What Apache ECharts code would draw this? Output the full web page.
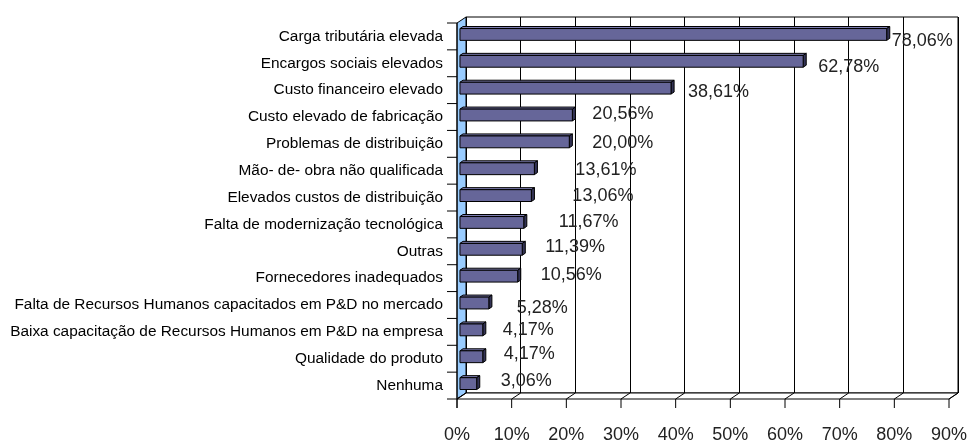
<!DOCTYPE html>
<html>
<head>
<meta charset="utf-8">
<script src="https://cdn.jsdelivr.net/npm/echarts@6/dist/echarts.min.js"></script>
<style>
html, body { margin: 0; padding: 0; background: #fff; }
#main { width: 974px; height: 444px; }
</style>
</head>
<body>
<div id="main"></div>
<script>
// dados
var categories = [
    'Carga tributária elevada',
    'Encargos sociais elevados',
    'Custo financeiro elevado',
    'Custo elevado de fabricação',
    'Problemas de distribuição',
    'Mão- de- obra não qualificada',
    'Elevados custos de distribuição',
    'Falta de modernização tecnológica',
    'Outras',
    'Fornecedores inadequados',
    'Falta de Recursos Humanos capacitados em P&D no mercado',
    'Baixa capacitação de Recursos Humanos em P&D na empresa',
    'Qualidade do produto',
    'Nenhuma'
];
var values = [78.06, 62.78, 38.61, 20.56, 20.00, 13.61, 13.06, 11.67, 11.39, 10.56, 5.28, 4.17, 4.17, 3.06];
var xTicks = [0, 10, 20, 30, 40, 50, 60, 70, 80, 90];

// profundidade do efeito 3D
var DX = -9, DY = 6;
var F_FRONT = 0.67, F_BACK = 0.33;
// deslocamento dos rótulos (como o Excel os posicionou)
var labelDx = [5, 15, 17, 20, 23, 41, 41, 35, 23, 23, 28, 20, 21, 24];
var labelDy = [11, 10, 8, 3, 5, 5, 4, 4, 2, 3, 9, 4, 1, 1];

function fmt(v) {
    return v.toFixed(2).replace('.', ',') + '%';
}

var myChart = echarts.init(document.getElementById('main'));

// chão, parede lateral, eixos da frente e nomes das categorias
function renderFrame(params, api) {
    var band = api.size([0, 1])[1];
    var first = api.coord([0, 0]);
    var last = api.coord([xTicks[xTicks.length - 1], categories.length - 1]);
    var top = first[1] - band / 2;
    var bottom = last[1] + band / 2;
    var left = first[0];
    var right = last[0];
    var line = { stroke: '#000', lineWidth: 1 };
    var children = [];
    // parede lateral
    children.push({
        type: 'polygon',
        shape: { points: [[left, top], [left, bottom], [left + DX, bottom + DY], [left + DX, top + DY]] },
        style: { fill: '#99ccff', stroke: '#000', lineWidth: 1 }
    });
    // chão
    children.push({
        type: 'polygon',
        shape: { points: [[left, bottom], [right, bottom], [right + DX, bottom + DY], [left + DX, bottom + DY]] },
        style: { fill: '#fff', stroke: '#000', lineWidth: 1 }
    });
    xTicks.forEach(function (t) {
        var x = api.coord([t, 0])[0];
        children.push({ type: 'line', shape: { x1: x, y1: bottom, x2: x + DX, y2: bottom + DY }, style: line });
        children.push({ type: 'line', shape: { x1: x + DX, y1: bottom + DY, x2: x + DX, y2: bottom + DY + 9 }, style: line });
    });
    // eixo vertical da frente
    children.push({ type: 'line', shape: { x1: left + DX, y1: top + DY, x2: left + DX, y2: bottom + DY + 9 }, style: line });
    for (var i = 0; i <= categories.length; i++) {
        var y = top + band * i + DY;
        children.push({ type: 'line', shape: { x1: left + DX - 10, y1: y, x2: left + DX, y2: y }, style: line });
    }
    categories.forEach(function (name, i) {
        var p = api.coord([0, i]);
        children.push({
            type: 'text',
            style: {
                x: p[0] + DX - 14,
                y: p[1] + DY,
                text: name,
                fill: '#000',
                font: '15.4px "Liberation Sans", Arial, sans-serif',
                align: 'right',
                verticalAlign: 'middle'
            }
        });
    });
    return { type: 'group', children: children };
}

// barras 3D
function renderBar(params, api) {
    var v = api.value(0), c = api.value(1);
    var p0 = api.coord([0, c]);
    var p1 = api.coord([v, c]);
    var h = api.size([0, 1])[1] * 0.44;
    var fx = DX * F_FRONT, fy = DY * F_FRONT;
    var bx = DX * F_BACK, by = DY * F_BACK;
    var x0 = p0[0] + fx, x1 = p1[0] + fx;
    var yt = p0[1] + fy - h / 2, yb = p0[1] + fy + h / 2;
    var dx = bx - fx, dy = by - fy;
    var edge = { stroke: '#000', lineWidth: 1 };
    return {
        type: 'group',
        children: [
            {
                type: 'polygon',
                shape: { points: [[x0, yt], [x1, yt], [x1 + dx, yt + dy], [x0 + dx, yt + dy]] },
                style: echarts.util.extend({ fill: '#7c7cb0' }, edge)
            },
            {
                type: 'polygon',
                shape: { points: [[x1, yt], [x1 + dx, yt + dy], [x1 + dx, yb + dy], [x1, yb]] },
                style: echarts.util.extend({ fill: '#333355' }, edge)
            },
            {
                type: 'rect',
                shape: { x: x0, y: yt, width: x1 - x0, height: yb - yt },
                style: echarts.util.extend({ fill: '#666699' }, edge)
            },
            {
                type: 'text',
                style: {
                    x: x1 + labelDx[c],
                    y: p1[1] + labelDy[c],
                    text: fmt(v),
                    fill: '#222',
                    font: '18px "Liberation Sans", Arial, sans-serif',
                    align: 'left',
                    verticalAlign: 'middle'
                }
            }
        ]
    };
}

var option = {
    animation: false,
    grid: {
        left: 466,
        right: 16,
        top: 17,
        bottom: 44,
        show: true,
        borderColor: '#000',
        borderWidth: 1,
        backgroundColor: '#fff'
    },
    xAxis: {
        type: 'value',
        min: 0,
        max: 90,
        interval: 10,
        axisLine: { show: false },
        axisTick: { show: false },
        splitLine: { show: true, lineStyle: { color: '#000', width: 1 } },
        axisLabel: {
            formatter: '{value}%',
            margin: 33,
            padding: [0, 18, 0, 0],
            color: '#222',
            fontSize: 18,
            fontFamily: 'Liberation Sans'
        }
    },
    yAxis: {
        type: 'category',
        inverse: true,
        data: categories,
        axisLine: { show: false },
        axisTick: { show: false },
        splitLine: { show: false },
        axisLabel: { show: false }
    },
    series: [
        {
            type: 'custom',
            renderItem: renderFrame,
            data: [[0, 0]],
            encode: { x: 0, y: 1 },
            z: 1,
            silent: true
        },
        {
            type: 'custom',
            renderItem: renderBar,
            data: values.map(function (v, i) { return [v, i]; }),
            encode: { x: 0, y: 1 },
            z: 2
        }
    ]
};

myChart.setOption(option);
</script>
</body>
</html>
